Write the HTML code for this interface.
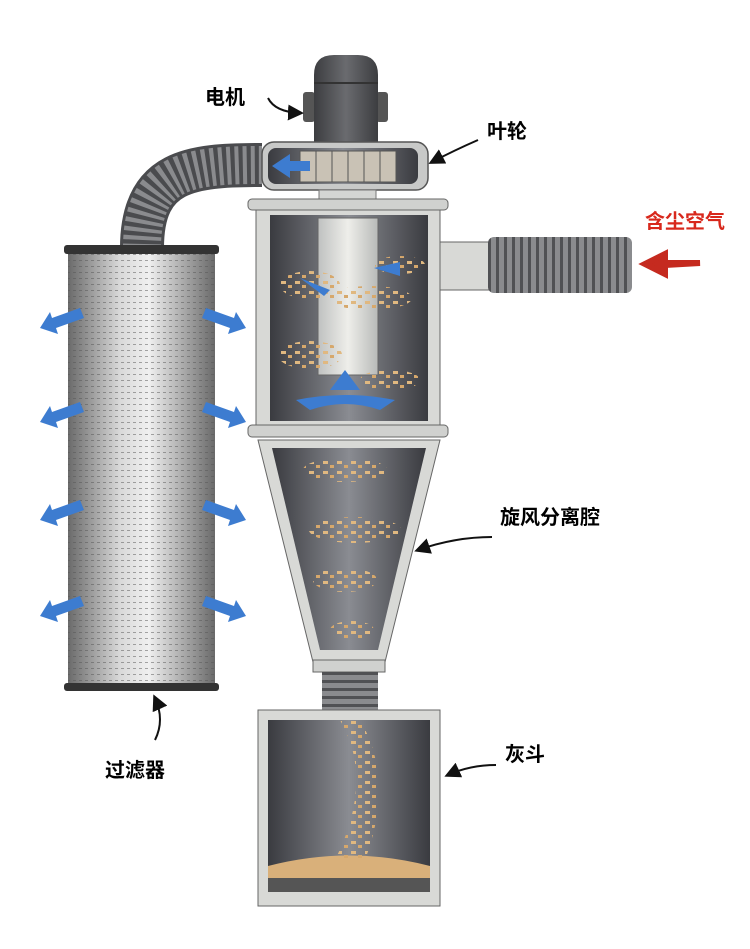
<!DOCTYPE html>
<html><head><meta charset="utf-8"><style>
body{margin:0;background:#fff}
svg{display:block}
text{font-family:"Liberation Sans","Noto Sans CJK SC",sans-serif;font-weight:bold;font-size:20px}
</style></head><body>
<svg width="750" height="949" viewBox="0 0 750 949" xmlns="http://www.w3.org/2000/svg">
<defs>
<linearGradient id="metal" x1="0" x2="1" y1="0" y2="0">
<stop offset="0" stop-color="#6a6a6a"/><stop offset="0.35" stop-color="#d8d8d8"/><stop offset="0.55" stop-color="#f0f0f0"/><stop offset="1" stop-color="#6a6a6a"/></linearGradient>
<linearGradient id="dark" x1="0" x2="1"><stop offset="0" stop-color="#3a3b40"/><stop offset="0.5" stop-color="#8a8c92"/><stop offset="1" stop-color="#3a3b40"/></linearGradient>
<linearGradient id="motor" x1="0" x2="1"><stop offset="0" stop-color="#3c3d40"/><stop offset="0.5" stop-color="#6a6b6f"/><stop offset="1" stop-color="#3c3d40"/></linearGradient>
<linearGradient id="tube" x1="0" x2="1"><stop offset="0" stop-color="#bfc1c0"/><stop offset="0.5" stop-color="#eeeeea"/><stop offset="1" stop-color="#b8bab8"/></linearGradient>
<pattern id="rib" width="8" height="8" patternUnits="userSpaceOnUse"><rect width="8" height="8" fill="#8a8b8e"/><rect width="3" height="8" fill="#505154"/></pattern>
<pattern id="ribh" width="8" height="8" patternUnits="userSpaceOnUse"><rect width="8" height="8" fill="#8a8b8e"/><rect width="8" height="3" fill="#505154"/></pattern>
<pattern id="perf" width="6" height="6" patternUnits="userSpaceOnUse"><rect x="1" y="2" width="3" height="1" fill="#555" opacity="0.5"/></pattern>
<pattern id="dust" width="14" height="10" patternUnits="userSpaceOnUse"><rect x="1" y="1" width="5" height="3" fill="#e0b880"/><rect x="8" y="5" width="4" height="3" fill="#d6a86c"/></pattern>
<marker id="ah" markerWidth="8" markerHeight="8" refX="6" refY="4" orient="auto"><path d="M0,0L8,4L0,8z" fill="#111"/></marker>
</defs>
<path d="M142,248 C142,170 190,165 262,165" fill="none" stroke="#4a4b4e" stroke-width="44"/>
<path d="M142,248 C142,170 190,165 262,165" fill="none" stroke="#8a8b8e" stroke-width="38" stroke-dasharray="4 4"/>
<rect x="68" y="250" width="147" height="437" fill="url(#metal)"/>
<rect x="68" y="250" width="147" height="437" fill="url(#perf)"/>
<rect x="64" y="245" width="155" height="9" rx="3" fill="#333"/>
<rect x="64" y="683" width="155" height="8" rx="3" fill="#333"/>
<rect x="303" y="92" width="12" height="30" rx="3" fill="#555"/>
<rect x="376" y="92" width="12" height="30" rx="3" fill="#555"/>
<path d="M314,142 V75 Q314,55 334,55 H358 Q378,55 378,75 V142z" fill="url(#motor)"/>
<rect x="314" y="82" width="64" height="2" fill="#333"/>
<rect x="262" y="142" width="166" height="48" rx="12" fill="#c8c9c8" stroke="#555" stroke-width="1.5"/>
<rect x="268" y="148" width="150" height="36" rx="8" fill="url(#dark)"/>
<g fill="#c9c2b5" stroke="#555"><rect x="300" y="151" width="16" height="31"/><rect x="316" y="151" width="16" height="31"/><rect x="332" y="151" width="16" height="31"/><rect x="348" y="151" width="16" height="31"/><rect x="364" y="151" width="16" height="31"/><rect x="380" y="151" width="16" height="31"/></g>
<path d="M272,166 L290,154 V161 H310 V171 H290 V178z" fill="#3d7cd0"/>
<rect x="319" y="190" width="57" height="10" fill="#d4d5d3" stroke="#777"/>
<rect x="248" y="199" width="200" height="11" rx="4" fill="#d0d1cf" stroke="#666"/>
<rect x="256" y="210" width="184" height="216" fill="#d8d9d6" stroke="#666"/>
<rect x="270" y="215" width="158" height="206" fill="url(#dark)"/>
<rect x="318" y="218" width="60" height="157" fill="url(#tube)" stroke="#666"/>
<rect x="248" y="425" width="200" height="12" rx="4" fill="#d0d1cf" stroke="#666"/>
<rect x="440" y="242" width="50" height="48" fill="#d8d9d6" stroke="#666"/>
<rect x="488" y="237" width="144" height="56" rx="6" fill="url(#rib)"/>
<path d="M700,263 H665 V254 L645,264 L665,274 V265z" fill="#c52a1f" stroke="#c52a1f" stroke-width="6"/>
<g fill="url(#dust)">
<ellipse cx="310" cy="285" rx="30" ry="14"/><ellipse cx="370" cy="298" rx="42" ry="12"/><ellipse cx="310" cy="355" rx="32" ry="14"/><ellipse cx="390" cy="380" rx="30" ry="10"/><ellipse cx="400" cy="265" rx="25" ry="9"/>
</g>
<g fill="#3d7cd0"><path d="M300,278 L330,290 L324,296z" /><path d="M400,262 L374,268 L400,276z"/><path d="M296,400 Q345,390 395,400 L380,410 Q345,398 310,410z"/><path d="M330,390 L345,370 L360,390z"/></g>
<path d="M258,440 H440 L385,662 H313z" fill="#d8d9d6" stroke="#666"/>
<path d="M272,448 H426 L378,650 H320z" fill="url(#dark)"/>
<g fill="url(#dust)"><ellipse cx="345" cy="470" rx="42" ry="12"/><ellipse cx="355" cy="530" rx="46" ry="13"/><ellipse cx="345" cy="580" rx="32" ry="12"/><ellipse cx="352" cy="630" rx="22" ry="9"/></g>
<rect x="313" y="660" width="72" height="12" fill="#d0d1cf" stroke="#666"/>
<rect x="322" y="672" width="56" height="40" fill="url(#ribh)"/>
<rect x="258" y="710" width="182" height="196" fill="#d8d9d6" stroke="#666"/>
<rect x="268" y="720" width="162" height="150" fill="url(#dark)"/>
<path d="M268,870 H430 V892 H268z" fill="#555"/>
<path d="M268,866 Q349,845 430,866 V878 H268z" fill="#d9b07a"/>
<path d="M340,720 Q375,780 335,860 L365,860 Q395,780 360,720z" fill="url(#dust)"/>
<g fill="#3d7cd0">
<path d="M40,328 L50,312 L52,318 L80,308 L84,318 L56,328 L58,334z"/>
<path d="M40,422 L50,406 L52,412 L80,402 L84,412 L56,422 L58,428z"/>
<path d="M40,520 L50,504 L52,510 L80,500 L84,510 L56,520 L58,526z"/>
<path d="M40,616 L50,600 L52,606 L80,596 L84,606 L56,616 L58,622z"/>
<path d="M246,328 L236,312 L234,318 L206,308 L202,318 L230,328 L228,334z"/>
<path d="M246,422 L236,406 L234,412 L206,402 L202,412 L230,422 L228,428z"/>
<path d="M246,520 L236,504 L234,510 L206,500 L202,510 L230,520 L228,526z"/>
<path d="M246,616 L236,600 L234,606 L206,596 L202,606 L230,616 L228,622z"/>
</g>
<g fill="none" stroke="#111" stroke-width="2" marker-end="url(#ah)">
<path d="M268,98 Q275,112 300,113"/>
<path d="M478,140 Q455,150 432,162"/>
<path d="M492,537 Q455,537 418,550"/>
<path d="M496,765 Q470,765 448,775"/>
<path d="M155,740 Q165,720 155,698"/>
</g>
<text x="205" y="104">电机</text>
<text x="487" y="138">叶轮</text>
<text x="645" y="228" fill="#d8281c">含尘空气</text>
<text x="500" y="524">旋风分离腔</text>
<text x="505" y="761">灰斗</text>
<text x="105" y="777">过滤器</text>
</svg>
</body></html>
